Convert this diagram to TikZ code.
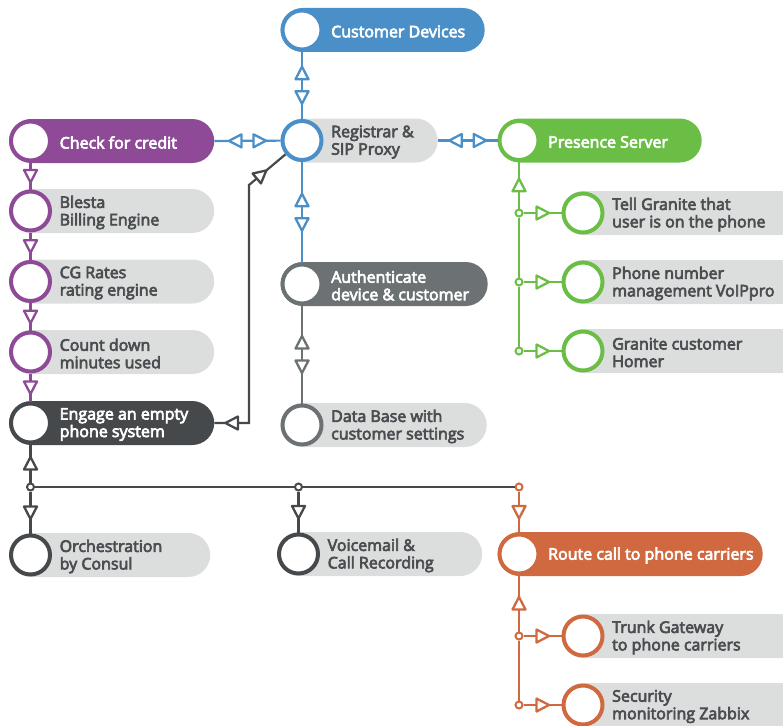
\documentclass[tikz,border=0pt]{standalone}
\usepackage{fontspec}
\setmainfont{Open Sans}[FakeBold=4]
\usetikzlibrary{decorations.markings}
\definecolor{cblue}{HTML}{4A8FC7}
\definecolor{cpurple}{HTML}{8E4A97}
\definecolor{cgreen}{HTML}{6ABE45}
\definecolor{cdark}{HTML}{46494B}
\definecolor{cgray}{HTML}{6C7173}
\definecolor{corange}{HTML}{D0693F}
\definecolor{cpill}{HTML}{DCDDDD}
\definecolor{cink}{HTML}{4A4E51}
\tikzstyle{pill} = [rectangle, rounded corners=22pt, minimum height=44pt, inner sep=0pt, anchor=west]
\tikzstyle{ring} = [circle, line width=4pt, fill=white, minimum size=39pt, inner sep=0pt]
\tikzstyle{txt} = [anchor=west, align=left, inner sep=0pt, font=\fontsize{16}{17.5}\selectfont]
\tikzstyle{joint} = [circle, line width=2pt, fill=white, minimum size=7pt, inner sep=0pt]
\tikzstyle{link} = [draw, line width=2.2pt]
\tikzstyle{tri} = [draw, fill=white, line width=2.3pt, line join=round]
\tikzstyle{oneway} = [postaction={decorate}, decoration={markings,
      mark=at position 0.5 with {\draw[tri] (-6,-6.5) -- (6.5,0) -- (-6,6.5) -- cycle;}}]
\tikzstyle{twoway} = [postaction={decorate}, decoration={markings,
      mark=at position 0.5 with {\draw[tri] (-6,-6.5) -- (-18.5,0) -- (-6,6.5) -- cycle;
                                 \draw[tri] (6,-6.5) -- (18.5,0) -- (6,6.5) -- cycle;}}]
% name, x, y, pill width, pill fill, ring colour, text colour, text
\newcommand{\stagebox}[8]{%
  \node[pill, fill=#5, minimum width=#4pt] (#1p) at (#2-21.5,#3) {};
  \node[ring, draw=#6] (#1) at (#2,#3) {};
  \node[txt, text=#7] (#1t) at (#2+29,#3+1.5) {#8};}

\begin{document}
\begin{tikzpicture}[x=1pt, y=-1pt]
	  \useasboundingbox (0,0) rectangle (783,725);
	  \clip (0,0) rectangle (783,725);
	  % Nodes
	  \stagebox{cd}{302}{30}{204}{cblue}{cblue}{white}{Customer Devices}
	  \stagebox{reg}{302}{140.5}{157}{cpill}{cblue}{cink}{Registrar \&\\SIP Proxy}
	  \stagebox{auth}{302}{284}{207}{cgray}{cgray}{white}{Authenticate\\device \& customer}
	  \stagebox{db}{302}{425}{206}{cpill}{cgray}{cink}{Data Base with\\customer settings}
	  \stagebox{credit}{30.5}{141}{205}{cpurple}{cpurple}{white}{Check for credit}
	  \stagebox{blesta}{30.5}{211}{205}{cpill}{cpurple}{cink}{Blesta\\Billing Engine}
	  \stagebox{cg}{30.5}{281.5}{205}{cpill}{cpurple}{cink}{CG Rates\\rating engine}
	  \stagebox{count}{30.5}{352}{205}{cpill}{cpurple}{cink}{Count down\\minutes used}
	  \stagebox{eng}{30.5}{423}{205}{cdark}{cdark}{white}{Engage an empty\\phone system}
	  \stagebox{orch}{30.5}{555}{201}{cpill}{cdark}{cink}{Orchestration\\by Consul}
	  \stagebox{vm}{298.5}{554}{205}{cpill}{cdark}{cink}{Voicemail \&\\Call Recording}
	  \stagebox{ps}{519}{140.5}{204}{cgreen}{cgreen}{white}{Presence Server}
	  \stagebox{tg}{583}{213}{240}{cpill}{cgreen}{cink}{Tell Granite that\\user is on the phone}
	  \stagebox{pn}{583}{282}{240}{cpill}{cgreen}{cink}{Phone number\\management VoIPpro}
	  \stagebox{gc}{583}{351}{240}{cpill}{cgreen}{cink}{Granite customer\\Homer}
	  \stagebox{route}{519}{554}{265}{corange}{corange}{white}{Route call to phone carriers}
	  \stagebox{trunk}{583}{636}{240}{cpill}{corange}{cink}{Trunk Gateway\\to phone carriers}
	  \stagebox{sec}{583}{705}{240}{cpill}{corange}{cink}{Security\\monitoring Zabbix}
	  % Junctions
	  \node [joint, draw=cgreen] (gj1) at (519,213) {};
	  \node [joint, draw=cgreen] (gj2) at (519,282) {};
	  \node [joint, draw=cgreen] (gj3) at (519,351) {};
	  \node [joint, draw=cdark] (ej) at (30.5,487) {};
	  \node [joint, draw=cdark] (vj) at (298.5,487) {};
	  \node [joint, draw=corange] (oj) at (519,487) {};
	  \node [joint, draw=corange] (rj1) at (519,636) {};
	  \node [joint, draw=corange] (rj2) at (519,705) {};
	  \coordinate (bend1) at (249,423);
	  \coordinate (bend2) at (249,185);
	  %Registrar
	  \path [link, cblue, twoway] (cd) -- (reg);
	  \path [link, cblue, twoway] (creditp.east) -- (reg);
	  \path [link, cblue, twoway] (regp.east) -- (ps);
	  \path [link, cblue, twoway] (reg) -- (auth);
	  \path [link, cgray, twoway] (auth) -- (db);
	  %Credit
	  \path [link, cpurple, oneway] (credit) -- (blesta);
	  \path [link, cpurple, oneway] (blesta) -- (cg);
	  \path [link, cpurple, oneway] (cg) -- (count);
	  \path [link, cpurple, oneway] (count) -- (eng);
	  \path [link, cdark, postaction={decorate}, decoration={markings,
	        mark=at position 11pt with {\draw[tri] (12.5,-6.5) -- (0,0) -- (12.5,6.5) -- cycle;},
	        mark=at position -25pt with {\draw[tri] (-12.5,-6.5) -- (0,0) -- (-12.5,6.5) -- cycle;}}]
	        (engp.east) -- (bend1) -- (bend2) -- (reg);
	  %Phone system
	  \path [link, cdark, oneway] (ej) -- (eng);
	  \path [link, cdark, oneway] (ej) -- (orch);
	  \path [link, cdark] (ej) -- (vj) -- (oj);
	  \path [link, cdark, oneway] (vj) -- (vm);
	  \path [link, corange, oneway] (oj) -- (route);
	  %Presence
	  \path [link, cgreen, oneway] (gj1) -- (ps);
	  \path [link, cgreen] (gj1) -- (gj2) -- (gj3);
	  \path [link, cgreen, oneway] (gj1) -- (tg);
	  \path [link, cgreen, oneway] (gj2) -- (pn);
	  \path [link, cgreen, oneway] (gj3) -- (gc);
	  %Carriers
	  \path [link, corange, oneway] (rj1) -- (route);
	  \path [link, corange] (rj1) -- (rj2);
	  \path [link, corange, oneway] (rj1) -- (trunk);
	  \path [link, corange, oneway] (rj2) -- (sec);
\end{tikzpicture}
\end{document}
